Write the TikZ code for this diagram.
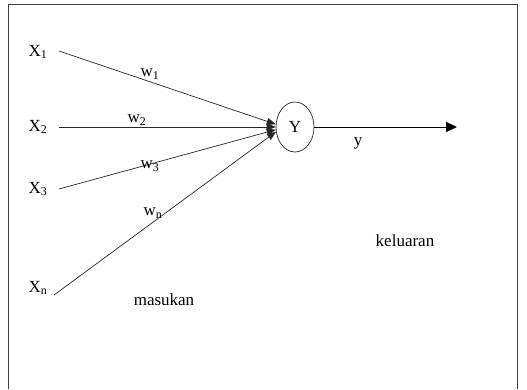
\documentclass[tikz,border=0pt]{standalone}
\usepackage{fontspec}
\setmainfont{Liberation Serif}
\usetikzlibrary{shapes.geometric,arrows.meta}
\begin{document}
\begin{tikzpicture}[x=1pt,y=1pt,
  lbl/.style={font=\fontsize{17}{20}\selectfont, inner sep=0pt},
  wire/.style={draw=black!85, line width=0.7pt},
  inarrow/.style={wire, -{Triangle[length=9pt,width=7pt]}},
  outarrow/.style={draw=black, line width=0.9pt, -{Triangle[length=11pt,width=10pt]}},
  frame/.style={draw=black!75, line width=0.8pt}]
\useasboundingbox (0,0) rectangle (527,389);
\draw[frame] (8,0) -- (8,385) -- (517,385) -- (517,0);
% inputs
\node[lbl] (x1) at (38,337) {X\textsubscript{1}};
\node[lbl] (x2) at (38,262) {X\textsubscript{2}};
\node[lbl] (x3) at (38,200) {X\textsubscript{3}};
\node[lbl] (xn) at (38,101) {X\textsubscript{n}};
\coordinate (s1) at (59,338);
\coordinate (s2) at (59,262);
\coordinate (s3) at (59,200);
\coordinate (sn) at (54,94);
% neuron
\node[ellipse, draw=black!85, line width=0.7pt, minimum width=38, minimum height=50, inner sep=0pt,
  font=\fontsize{17}{20}\selectfont] (Y) at (295,262) {Y};
\draw[inarrow] (s1) -- (Y.172);
\draw[inarrow] (s2) -- (Y.west);
\draw[inarrow] (s3) -- (Y.188);
\draw[inarrow] (sn) -- (Y.194);
% weights
\node[lbl] (w1) at (150,315) {w\textsubscript{1}};
\node[lbl] (w2) at (137,269) {w\textsubscript{2}};
\node[lbl] (w3) at (150,223) {w\textsubscript{3}};
\node[lbl] (wn) at (153,176) {w\textsubscript{n}};
% output
\coordinate (out) at (457,262);
\draw[outarrow] (Y.east) -- (out);
\node[lbl] (yl) at (358,246) {y};
\node[lbl] (kel) at (405,148) {keluaran};
\node[lbl] (mas) at (164,89) {masukan};
\end{tikzpicture}
\end{document}
